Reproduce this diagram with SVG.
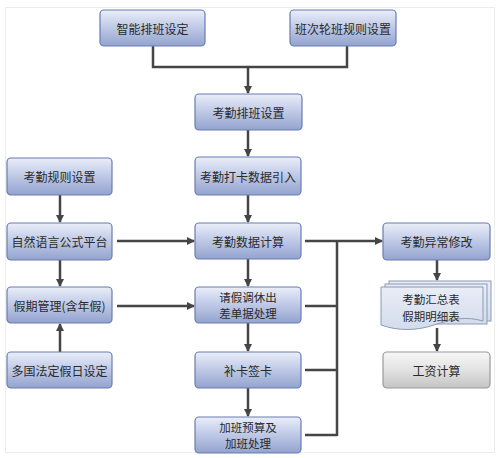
<svg xmlns="http://www.w3.org/2000/svg" width="500" height="458" viewBox="0 0 500 458">
<defs>
<linearGradient id="gb" x1="0" y1="0" x2="0" y2="1">
<stop offset="0" stop-color="#eaeef9"/>
<stop offset="0.45" stop-color="#c2cce8"/>
<stop offset="1" stop-color="#93a3cf"/>
</linearGradient>
<linearGradient id="gg" x1="0" y1="0" x2="0" y2="1">
<stop offset="0" stop-color="#f7f7f7"/>
<stop offset="0.5" stop-color="#e2e2e2"/>
<stop offset="1" stop-color="#c4c4c4"/>
</linearGradient>
<linearGradient id="gd" x1="0" y1="0" x2="0" y2="1">
<stop offset="0" stop-color="#e8edf6"/>
<stop offset="1" stop-color="#d3dcec"/>
</linearGradient>
<marker id="ah" markerWidth="8" markerHeight="8" refX="7" refY="4" orient="auto" markerUnits="userSpaceOnUse">
<path d="M0,0 L8,4 L0,8 Z" fill="#454545"/>
</marker>
</defs>
<style>
.b{fill:url(#gb);stroke:#6a7cb0;stroke-width:1.2}
.g{fill:url(#gg);stroke:#9a9a9a;stroke-width:1.2}
.d{fill:url(#gd);stroke:#8c9ab5;stroke-width:1}
.t{font-family:"Noto Sans CJK SC","Noto Sans",sans-serif;font-size:12px;fill:#2a2a2a;text-anchor:middle;dominant-baseline:central}
.s{font-size:11.5px}
.l{fill:none;stroke:#454545;stroke-width:2.5}
.a{fill:none;stroke:#454545;stroke-width:2.5;marker-end:url(#ah)}
</style>
<rect x="0" y="0" width="500" height="458" fill="#ffffff"/>
<rect x="5.5" y="7.5" width="489" height="445" fill="none" stroke="#ececec" stroke-width="1"/>

<g id="connectors">
<path class="l" d="M153,46 V67 H347 V46"/>
<path class="a" d="M248,67 V93"/>
<path class="a" d="M248,130 V156"/>
<path class="a" d="M248,195 V222"/>
<path class="a" d="M248,259 V286"/>
<path class="a" d="M248,323 V351"/>
<path class="a" d="M248,388 V416"/>
<path class="a" d="M60,195 V222"/>
<path class="a" d="M60,260 V286"/>
<path class="a" d="M60,352 V324"/>
<path class="a" d="M117,241 H194"/>
<path class="a" d="M117,306 H194"/>
<path class="l" d="M305,241 H337 M305,306 H337 M305,370 H337 M305,435 H337 M337,240 V436"/>
<path class="a" d="M337,241 H382"/>
<path class="a" d="M437,260 V280"/>
<path class="a" d="M437,328 V351"/>
</g>

<g id="n1"><rect class="b" x="100" y="10" width="105" height="36" rx="4"/><text class="t" x="152.5" y="28">智能排班设定</text></g>
<g id="n2"><rect class="b" x="290" y="10" width="106" height="36" rx="4"/><text class="t" x="343" y="28">班次轮班规则设置</text></g>
<g id="n3"><rect class="b" x="195" y="94" width="107" height="36" rx="4"/><text class="t" x="248.5" y="112">考勤排班设置</text></g>
<g id="n4"><rect class="b" x="7" y="158" width="105" height="37" rx="4"/><text class="t" x="59.5" y="176.5">考勤规则设置</text></g>
<g id="n5"><rect class="b" x="195" y="157" width="106" height="38" rx="4"/><text class="t" x="248" y="176">考勤打卡数据引入</text></g>
<g id="n6"><rect class="b" x="7" y="223" width="105" height="37" rx="4"/><text class="t" x="59.5" y="241.5">自然语言公式平台</text></g>
<g id="n7"><rect class="b" x="195" y="223" width="106" height="36" rx="4"/><text class="t" x="248" y="241">考勤数据计算</text></g>
<g id="n8"><rect class="b" x="383" y="223" width="107" height="37" rx="4"/><text class="t" x="436.5" y="241.5">考勤异常修改</text></g>
<g id="n9"><rect class="b" x="7" y="287" width="105" height="36" rx="4"/><text class="t" x="59.5" y="305">假期管理(含年假)</text></g>
<g id="n10"><rect class="b" x="195" y="287" width="106" height="36" rx="4"/><text class="t s" x="248" y="297">请假调休出</text><text class="t s" x="248" y="313">差单据处理</text></g>
<g id="n11">
<rect class="d" x="389" y="281" width="102" height="40"/>
<rect class="d" x="385" y="284" width="102" height="40"/>
<path class="d" d="M381,287 H483 V321 C466,316 452,319 434,325 C416,331 398,331 381,325 Z"/>
<text class="t s" x="431" y="299">考勤汇总表</text><text class="t s" x="431" y="316">假期明细表</text>
</g>
<g id="n12"><rect class="b" x="7" y="352" width="105" height="36" rx="4"/><text class="t" x="59.5" y="370">多国法定假日设定</text></g>
<g id="n13"><rect class="b" x="195" y="352" width="106" height="36" rx="4"/><text class="t" x="248" y="370">补卡签卡</text></g>
<g id="n14"><rect class="g" x="383" y="352" width="107" height="36" rx="4"/><text class="t" x="436.5" y="370">工资计算</text></g>
<g id="n15"><rect class="b" x="195" y="417" width="106" height="36" rx="4"/><text class="t s" x="248" y="427">加班预算及</text><text class="t s" x="248" y="443">加班处理</text></g>
</svg>
